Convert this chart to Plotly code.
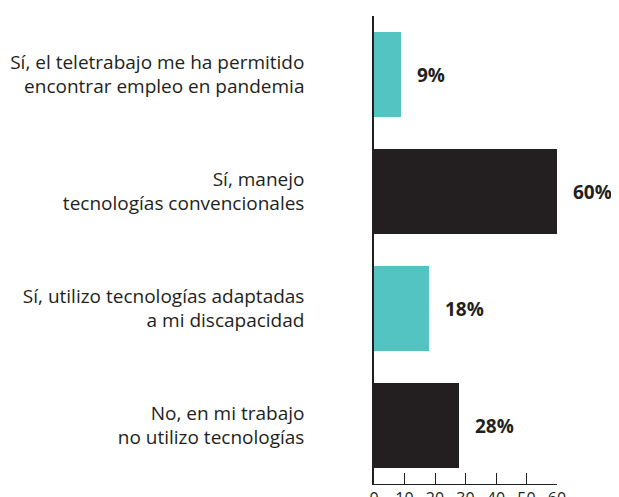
import plotly.graph_objects as go

categories = [
    "Sí, el teletrabajo me ha permitido<br>encontrar empleo en pandemia",
    "Sí, manejo<br>tecnologías convencionales",
    "Sí, utilizo tecnologías adaptadas<br>a mi discapacidad",
    "No, en mi trabajo<br>no utilizo tecnologías",
]
values = [9, 60, 18, 28]
colors = ["#53C4C2", "#231F20", "#53C4C2", "#231F20"]
tick_vals = [0, 10, 20, 30, 40, 50, 60]

DARK = "#231F20"
FONT = "'Open Sans', Lato, sans-serif"

fig = go.Figure()
fig.add_trace(go.Bar(
    y=categories,
    x=values,
    orientation="h",
    marker=dict(color=colors, line=dict(width=0)),
    width=0.727,
    hoverinfo="skip",
))

for c, v in zip(categories, values):
    fig.add_annotation(
        x=v, y=c, xref="x", yref="y",
        text=f"<b>{v}%</b>",
        showarrow=False, xanchor="left", yanchor="middle",
        xshift=14,
        font=dict(family=FONT, size=19, color=DARK),
    )

fig.update_layout(
    template="none",
    width=611, height=489,
    margin=dict(l=366, r=62, t=8, b=13, autoexpand=False),
    paper_bgcolor="white",
    plot_bgcolor="white",
    showlegend=False,
    bargap=0,
    font=dict(family=FONT, color=DARK),
)
fig.update_xaxes(
    automargin=False,
    range=[0, 60],
    tickvals=tick_vals,
    ticks="inside",
    ticklen=11,
    tickwidth=1,
    tickcolor=DARK,
    showline=True,
    linecolor=DARK,
    linewidth=1,
    showgrid=False,
    zeroline=False,
    tickfont=dict(family=FONT, size=16, color=DARK),
)
fig.update_yaxes(
    automargin=False,
    categoryorder="array",
    categoryarray=categories[::-1],
    range=[-0.5, 3.5],
    showline=True,
    linecolor=DARK,
    linewidth=1.5,
    ticks="",
    showgrid=False,
    zeroline=False,
    ticklabelstandoff=64,
    tickfont=dict(family=FONT, size=19, color=DARK),
)

fig.write_html("out.html")
